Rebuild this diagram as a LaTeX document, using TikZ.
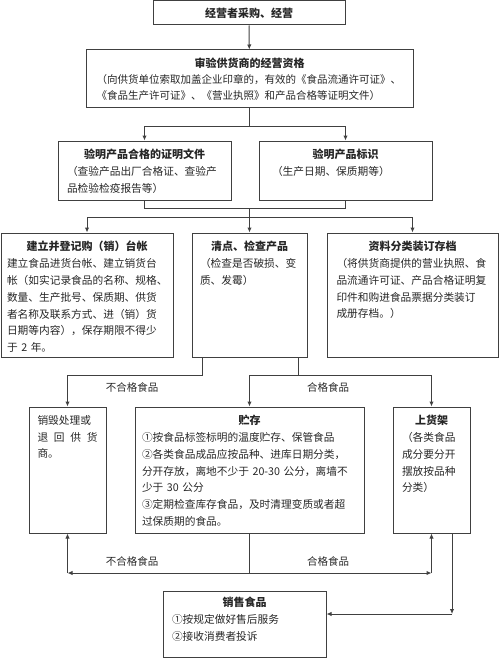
\documentclass[tikz,border=0pt]{standalone}
\usepackage{fontspec}
\setmainfont{Noto Sans CJK SC}
\usetikzlibrary{arrows.meta,positioning}
\setlength{\parindent}{0pt}
\definecolor{xian}{gray}{0.25}
\tikzstyle{kuang}=[draw=xian, line width=1pt, inner sep=0pt]
\tikzstyle{wenzi}=[inner sep=0pt, align=left, text=black!85, font=\fontsize{10.7}{16.8}\selectfont]
\tikzstyle{biaoqian}=[inner sep=0pt, text=black!85, font=\fontsize{10.5}{12}\selectfont]
\tikzstyle{jian}=[draw=xian, line width=1pt, -{Latex[length=5pt,width=4.5pt]}]
\tikzstyle{lian}=[draw=xian, line width=1pt]
\newcommand{\kuang}{\node[kuang]}
\newcommand{\biaoti}[1]{{\centering\fontsize{11}{16.8}\selectfont\bfseries #1\par}}

\begin{document}
\begin{tikzpicture}[x=1pt,y=-1pt]
            \useasboundingbox (0,0) rectangle (500,658);
            \kuang (caigou) at (249,13) [minimum width=192pt, minimum height=24pt, text=black!85, font=\fontsize{11}{13}\selectfont\bfseries]{经营者采购、经营};
            \kuang (shenyan) at (249.5,79) [minimum width=327pt, minimum height=58pt]{};
            \kuang (zhengming) at (144.5,170.5) [minimum width=173pt, minimum height=59pt]{};
            \kuang (biaoshi) at (345.5,170.5) [minimum width=173pt, minimum height=59pt]{};
            \kuang (taizhang) at (87,295) [minimum width=172pt, minimum height=124pt]{};
            \kuang (qingdian) at (249.5,295) [minimum width=115pt, minimum height=124pt]{};
            \kuang (ziliao) at (412.5,295) [minimum width=171pt, minimum height=124pt]{};
            \kuang (xiaohui) at (67.5,470) [minimum width=77pt, minimum height=126pt]{};
            \kuang (zhucun) at (249.5,470) [minimum width=229pt, minimum height=126pt]{};
            \kuang (shanghuojia) at (431.5,470) [minimum width=77pt, minimum height=126pt]{};
            \kuang (xiaoshou) at (244.5,624) [minimum width=163pt, minimum height=66pt]{};

            \node[wenzi, text width=306pt, font=\fontsize{10.5}{16}\selectfont, below=8.5pt of shenyan.north] (shenyan-t)
                {\biaoti{审验供货商的经营资格}（向供货单位索取加盖企业印章的，有效的《食品流通许可证》、\\《食品生产许可证》、《营业执照》和产品合格等证明文件）};
            \node[wenzi, text width=155pt, below=8.5pt of zhengming.north] (zhengming-t)
                {\biaoti{验明产品合格的证明文件}（查验产品出厂合格证、查验产\\品检验检疫报告等）};
            \node[wenzi, text width=147pt, below=8.5pt of biaoshi.north] (biaoshi-t)
                {\biaoti{验明产品标识}（生产日期、保质期等）};
            \node[wenzi, text width=160pt, below=8.5pt of taizhang.north] (taizhang-t)
                {\biaoti{建立并登记购（销）台帐}建立食品进货台帐、建立销货台\\帐（如实记录食品的名称、规格、\\数量、生产批号、保质期、供货\\者名称及联系方式、进（销）货\\日期等内容），保存期限不得少\\于 2 年。};
            \node[wenzi, text width=99pt, below=8.5pt of qingdian.north] (qingdian-t)
                {\biaoti{清点、检查产品}（检查是否破损、变\\质、发霉）};
            \node[wenzi, text width=152pt, below=8.5pt of ziliao.north] (ziliao-t)
                {\biaoti{资料分类装订存档}（将供货商提供的营业执照、食\\品流通许可证、产品合格证明复\\印件和购进食品票据分类装订\\成册存档。）};
            \node[wenzi, text width=60pt, below=8.5pt of xiaohui.north] (xiaohui-t)
                {销毁处理或\\退\hfill 回\hfill 供\hfill 货\\商。};
            \node[wenzi, text width=215pt, below=8.5pt of zhucun.north] (zhucun-t)
                {\biaoti{贮存}①按食品标签标明的温度贮存、保管食品\\②各类食品成品应按品种、进库日期分类，\\分开存放，离地不少于 20-30 公分，离墙不\\少于 30 公分\\③定期检查库存食品，及时清理变质或者超\\过保质期的食品。};
            \node[wenzi, text width=59pt, below=8.5pt of shanghuojia.north] (shanghuojia-t)
                {\biaoti{上货架}（各类食品\\成分要分开\\摆放按品种\\分类）};
            \node[wenzi, text width=145pt, below=6.5pt of xiaoshou.north] (xiaoshou-t)
                {\biaoti{销售食品}①按规定做好售后服务\\②接收消费者投诉};

            \coordinate (huizong) at (249.5,208);
            \coordinate (buhege) at (202,375);
            \coordinate (hege) at (298,375);
            \coordinate (fenfa) at (249.5,573);
            \coordinate (shouhou) at (452,614);

            \draw[jian] (caigou) -- (shenyan);
            \draw[jian] (shenyan.south) -- ++(0,18) -| (zhengming);
            \draw[jian] (shenyan.south) -- ++(0,18) -| (biaoshi);
            \draw[lian] (zhengming.south) -- ++(0,8) -| (biaoshi.south);
            \draw[jian] (huizong) -- ++(0,9) -| (taizhang);
            \draw[jian] (huizong) -- (qingdian);
            \draw[jian] (huizong) -- ++(0,9) -| (ziliao);
            \draw[jian] (qingdian.south -| buhege) -- (buhege) -| (xiaohui);
            \draw[jian] (qingdian.south -| hege) -- (hege) -| (zhucun);
            \draw[jian] (hege) -| (shanghuojia);
            \draw[lian] (zhucun) -- (fenfa);
            \draw[jian] (fenfa) -- (xiaohui.south |- fenfa);
            \draw[jian] (xiaohui.south |- fenfa) -- (xiaohui);
            \draw[jian] (fenfa) -- (shanghuojia.south |- fenfa);
            \draw[jian] (shanghuojia.south |- fenfa) -- (shanghuojia);
            \draw[jian] (shanghuojia.south -| shouhou) -- (shouhou);
            \draw[jian] (shouhou) -- (xiaoshou.east |- shouhou);

            \node[biaoqian] (buhege-a) at (132,387) {不合格食品};
            \node[biaoqian] (hege-a) at (328,387) {合格食品};
            \node[biaoqian] (buhege-b) at (132,561) {不合格食品};
            \node[biaoqian] (hege-b) at (328,561) {合格食品};
\end{tikzpicture}
\end{document}
